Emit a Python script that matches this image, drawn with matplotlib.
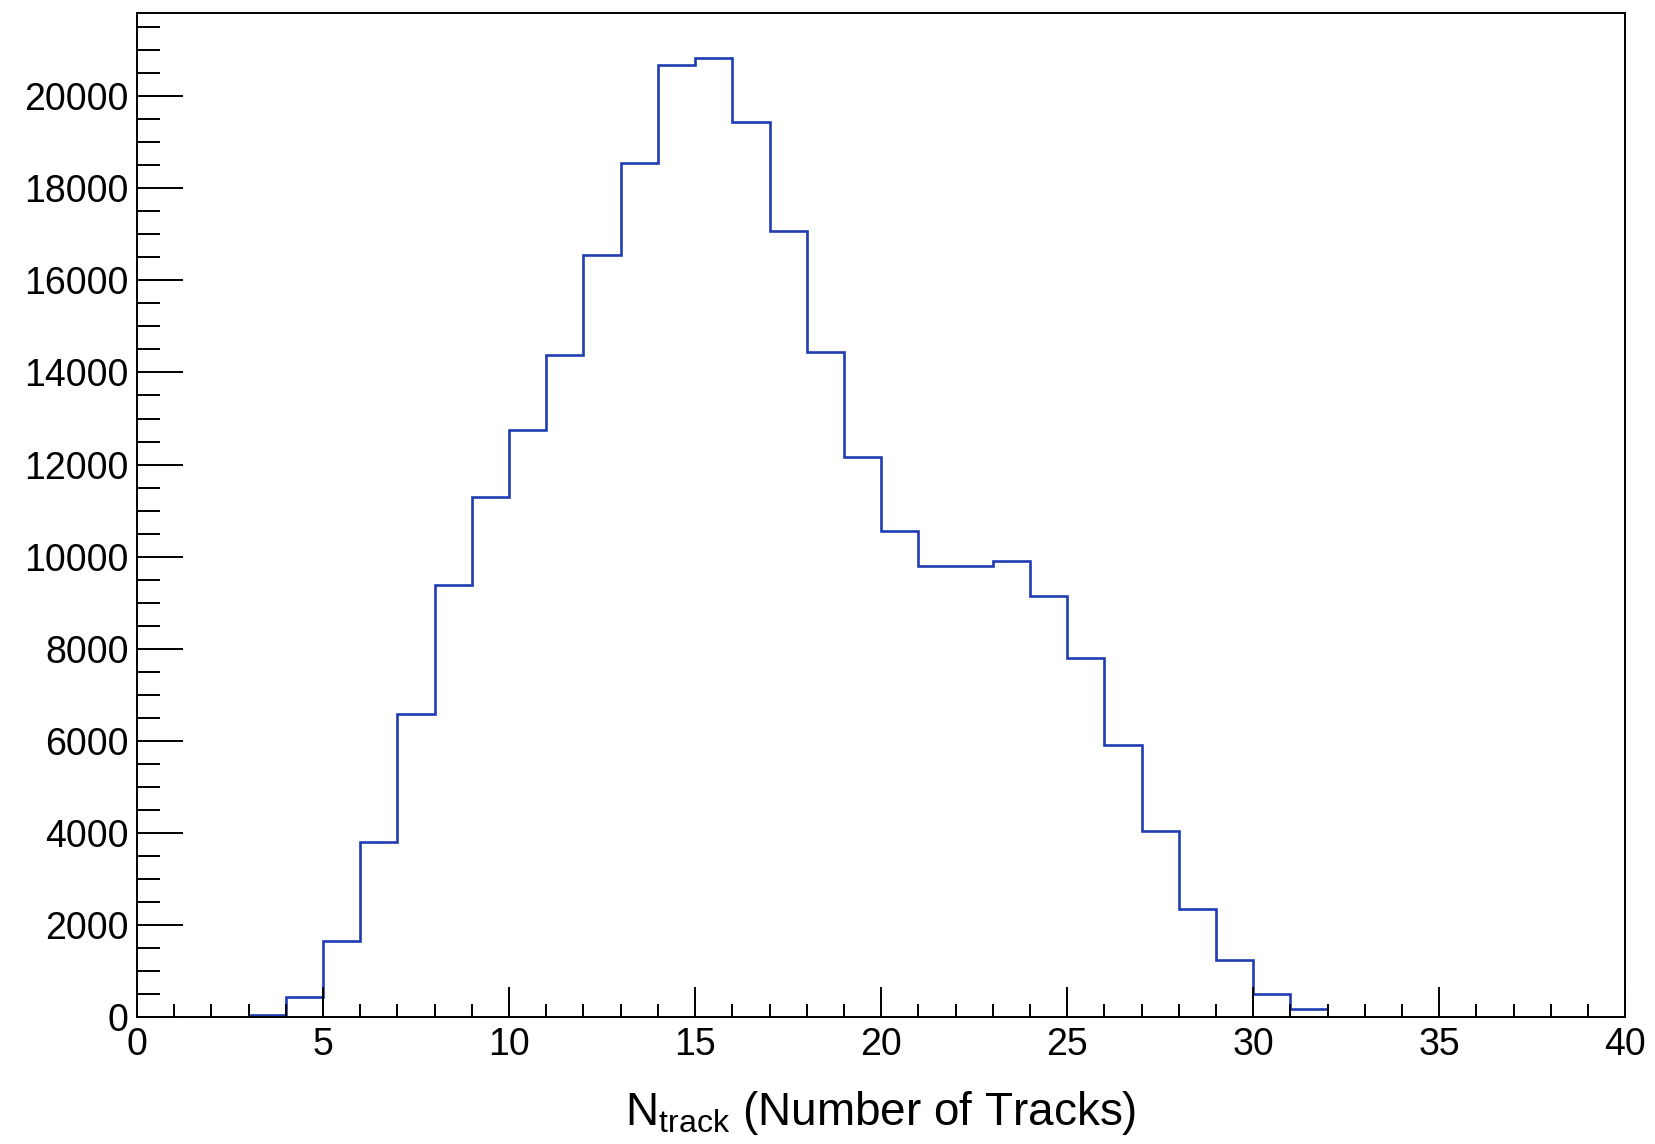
import matplotlib
matplotlib.use("Agg")
import matplotlib.pyplot as plt
from matplotlib.ticker import MultipleLocator
import numpy as np

# Data: bin edges (integer bins) and counts
bin_edges = list(range(3, 33))
counts = [50, 455, 1670, 3810, 6590, 9395, 11300, 12750, 14380, 16540,
          18555, 20665, 20815, 19440, 17065, 14445, 12170, 10550, 9800, 9800,
          9905, 9155, 7810, 5905, 4045, 2360, 1250, 505, 178]
x_label_main = "N"
x_label_sub = "track"
x_label_rest = " (Number of Tracks)"

plt.rcParams['font.family'] = ['Liberation Sans', 'DejaVu Sans']
plt.rcParams['mathtext.fontset'] = 'custom'
plt.rcParams['mathtext.rm'] = 'Liberation Sans'
plt.rcParams['mathtext.it'] = 'Liberation Sans'

fig = plt.figure(figsize=(16.55, 11.44), dpi=100)
ax = fig.add_axes([0.0828, 0.1106, 0.982 - 0.0828, 0.9886 - 0.1106])

ax.stairs(counts, bin_edges, color='#1f3db3', linewidth=1.9, baseline=None)

ax.set_xlim(0, 40)
ax.set_ylim(0, 21800)

ax.xaxis.set_major_locator(MultipleLocator(5))
ax.xaxis.set_minor_locator(MultipleLocator(1))
ax.yaxis.set_major_locator(MultipleLocator(2000))
ax.yaxis.set_minor_locator(MultipleLocator(500))

ax.tick_params(axis='both', which='both', direction='in', width=1.4, colors='black',
               top=False, right=False, labelsize=27)
ax.tick_params(axis='x', which='major', length=21.6, pad=7)
ax.tick_params(axis='x', which='minor', length=9.5)
ax.tick_params(axis='y', which='major', length=33, pad=6)
ax.tick_params(axis='y', which='minor', length=16.6)

for s in ax.spines.values():
    s.set_linewidth(1.4)

fig.text(0.532, 0.0166,
         r"$\mathrm{" + x_label_main + r"}_{\mathrm{" + x_label_sub + r"}}$" + x_label_rest,
         fontsize=33, ha='center', va='baseline')

fig.savefig("out.png", dpi=100)
